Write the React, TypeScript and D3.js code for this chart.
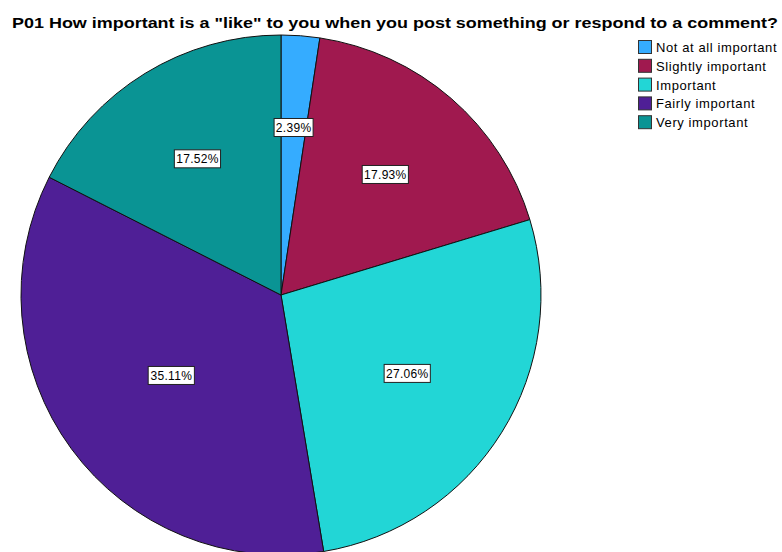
import React from "react";
import * as d3 from "d3";

const categories = ["Not at all important", "Slightly important", "Important", "Fairly important", "Very important"];
const values = [2.39, 17.93, 27.06, 35.11, 17.52];
const colors = ["#35acff", "#a0194f", "#22d6d6", "#4f1f96", "#0a9494"];
const title = 'P01 How important is a "like" to you when you post something or respond to a comment?';

export default function App() {
  const W = 782, H = 552;
  const cx = 281, cy = 295, r = 260;
  const pie = d3.pie<number>().sort(null).value((d) => d);
  const arcs = pie(values);
  const arcGen = d3.arc<d3.PieArcDatum<number>>().innerRadius(0).outerRadius(r);
  const fmt = (v: number) => v.toFixed(2) + "%";
  return (
    <svg width={W} height={H} style={{ position: "absolute", left: 0, top: 0, background: "#fff" }}
      fontFamily="Liberation Sans, Arial, sans-serif">
      <rect width={W} height={H} fill="#fff" />
      <text x={12} y={28} fontSize={15} fontWeight="bold" fill="#000" textLength={766} lengthAdjust="spacingAndGlyphs">{title}</text>
      <g transform={`translate(${cx},${cy})`}>
        {arcs.map((a, i) => (
          <path key={i} d={arcGen(a) || ""} fill={colors[i]} stroke="#111" strokeWidth={1} />
        ))}
        {arcs.map((a, i) => {
          const half = (a.endAngle - a.startAngle) / 2;
          const mid = (a.startAngle + a.endAngle) / 2;
          const dist = (2 * r * Math.sin(half)) / (3 * half) * 0.97;
          const x = dist * Math.sin(mid);
          const y = -dist * Math.cos(mid);
          const label = fmt(values[i]);
          const w = label.length * 7.2 + 3;
          return (
            <g key={"l" + i} transform={`translate(${x},${y})`}>
              <rect x={-w / 2} y={-9} width={w} height={18} fill="#fff" stroke="#222" strokeWidth={1} />
              <text x={0} y={4.5} textAnchor="middle" fontSize={12} letterSpacing={0.3} fill="#000">{label}</text>
            </g>
          );
        })}
      </g>
      <g transform="translate(638,40)">
        {categories.map((c, i) => (
          <g key={c} transform={`translate(0,${i * 18.8})`}>
            <rect x={0.5} y={0.5} width={13} height={13} fill={colors[i]} stroke="#333" strokeWidth={1} />
            <text x={18} y={12} fontSize={13} letterSpacing={0.6} fill="#000">{c}</text>
          </g>
        ))}
      </g>
    </svg>
  );
}
